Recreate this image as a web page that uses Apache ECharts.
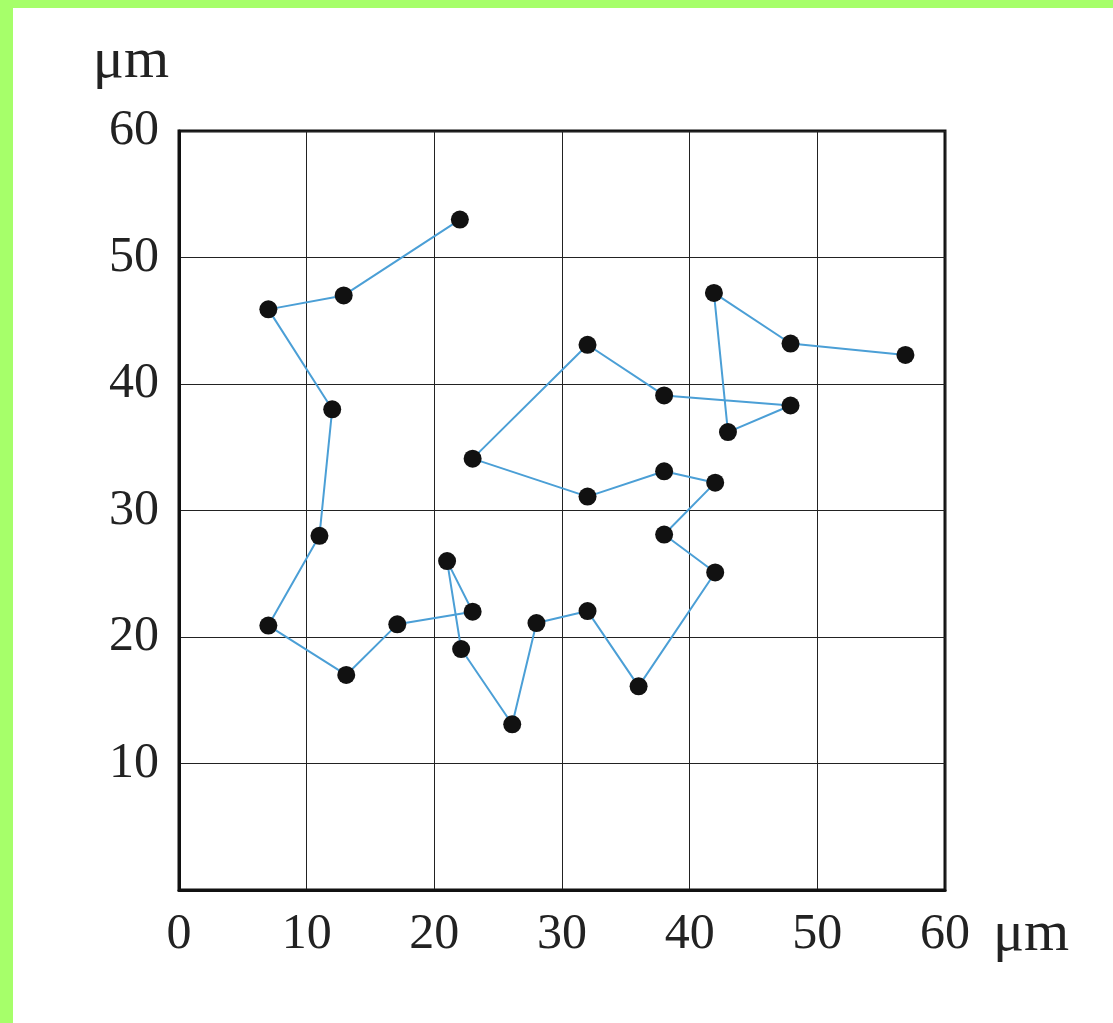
<!DOCTYPE html>
<html><head><meta charset="utf-8">
<script src="https://cdn.jsdelivr.net/npm/echarts@6/dist/echarts.min.js"></script>
<style>
html,body{margin:0;padding:0;width:1113px;height:1023px;overflow:hidden;background:#a6ff6a;}
#c{position:absolute;left:13px;top:8px;width:1100px;height:1015px;background:#fff;}
</style></head>
<body><div id="c"></div>
<script>
// Path of the particle (x, y in µm), in order
const xValues = [22, 12.9, 7, 12, 11, 7, 13.1, 17.1, 23, 21, 22.1, 26.1, 28, 32, 36, 42, 38, 42, 38, 32, 23, 32, 38, 47.9, 43, 41.9, 47.9, 56.9];
const yValues = [53, 47, 45.9, 38, 28, 20.9, 17, 21, 22, 26, 19.05, 13.1, 21.1, 22.05, 16.1, 25.1, 28.1, 32.2, 33.1, 31.1, 34.1, 43.1, 39.1, 38.3, 36.2, 47.2, 43.2, 42.3];
const xTicks = ['0','10','20','30','40','50','60'];
const yTicks = ['','10','20','30','40','50','60'];
const unitName = 'μm';

const pts = xValues.map((x,i)=>[x, yValues[i]]);
const font = '"Liberation Serif", "DejaVu Serif", serif';
const chart = echarts.init(document.getElementById('c'));
chart.setOption({
  backgroundColor:'#fff',
  animation:false,
  grid:{left:166, top:123, width:766, height:759, show:true, borderColor:'#111', borderWidth:3, backgroundColor:'transparent'},
  xAxis:{type:'value', min:0, max:60, interval:10,
    name:unitName, nameLocation:'end', nameGap:48,
    nameTextStyle:{fontFamily:font, fontSize:58, color:'#222', align:'left', verticalAlign:'top', padding:[16,0,0,0]},
    axisLine:{show:true, lineStyle:{color:'#111', width:3}},
    axisTick:{show:false},
    axisLabel:{fontFamily:font, fontSize:50, color:'#222', margin:20, formatter:(v)=>xTicks[Math.round(v/10)]},
    splitLine:{show:true, lineStyle:{color:'#222', width:1}}
  },
  yAxis:{type:'value', min:0, max:60, interval:10,
    name:unitName, nameLocation:'end', nameGap:40,
    nameTextStyle:{fontFamily:font, fontSize:58, color:'#222', align:'right', padding:[0,10,0,0]},
    axisLine:{show:true, lineStyle:{color:'#111', width:3}},
    axisTick:{show:false},
    axisLabel:{fontFamily:font, fontSize:50, color:'#222', margin:20, padding:[10,0,0,0], formatter:(v)=>yTicks[Math.round(v/10)]},
    splitLine:{show:true, lineStyle:{color:'#222', width:1}}
  },
  series:[{type:'line', data:pts, symbol:'circle', symbolSize:18,
    lineStyle:{color:'#4b9fd6', width:2},
    itemStyle:{color:'#111', borderWidth:0}, z:3}]
});
</script></body></html>
